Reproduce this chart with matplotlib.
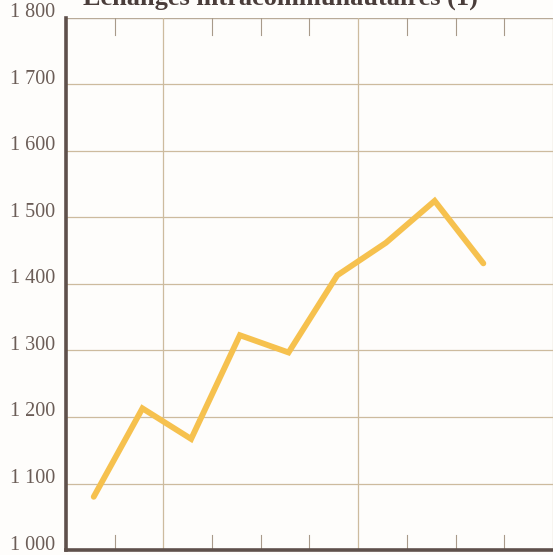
import numpy as np
import matplotlib.pyplot as plt
from matplotlib.transforms import ScaledTranslation

# valeurs (indice de l'annee, 0..8)
years = [0, 1, 2, 3, 4, 5, 6, 7, 8]
values = [1080, 1213, 1167, 1323, 1297, 1413, 1462, 1525, 1431]
yticks = [1000, 1100, 1200, 1300, 1400, 1500, 1600, 1700, 1800]
ylabels = ['1 000', '1 100', '1 200', '1 300', '1 400', '1 500', '1 600', '1 700', '1 800']
title = 'Échanges intracommunautaires (1)'

fig = plt.figure(figsize=(5.53, 5.55), dpi=100)
fig.patch.set_facecolor('#fefdfb')
ax = fig.add_axes([0.1193, 0.009, 0.8807, 0.9586])
ax.set_facecolor('#fefdfb')

grid_c = '#cdbb9e'
axis_c = '#5e504b'
text_c = '#6b5d57'

xmin, xmax = -0.57, 9.43
ax.set_xlim(xmin, xmax)
ax.set_ylim(1000, 1800)

# horizontal grid
for v in yticks[1:-1]:
    ax.axhline(v, color=grid_c, lw=0.9, zorder=1)
ax.axhline(1800, color='#b8aa98', lw=1.0, zorder=1)

# vertical ticks (one per year) and long lines every 4
ticks_x = [xmin + k for k in range(1, 11)]
for k, tx in enumerate(ticks_x, start=1):
    if k % 4 == 2:
        ax.axvline(tx, color=grid_c, lw=0.9, zorder=1)
    else:
        ax.plot([tx, tx], [1800, 1775], color='#a89a8a', lw=0.8, zorder=1)
        ax.plot([tx, tx], [1000, 1022], color='#a89a8a', lw=0.8, zorder=1)

ax.plot(years, values, color='#f6c14e', lw=4.2, solid_joinstyle='miter',
        solid_capstyle='round', zorder=3)

for s in ['top', 'right']:
    ax.spines[s].set_visible(False)
ax.spines['left'].set_color(axis_c)
ax.spines['left'].set_linewidth(2.6)
ax.spines['bottom'].set_color(axis_c)
ax.spines['bottom'].set_linewidth(2.6)

ax.set_xticks([])
ax.set_yticks(yticks)
ax.set_yticklabels(ylabels, fontsize=14.5, family='Liberation Serif', color=text_c)
ax.tick_params(axis='y', length=0, pad=8)
shift = ScaledTranslation(0, 0.05, fig.dpi_scale_trans)
for lab in ax.get_yticklabels():
    lab.set_verticalalignment('center')
    lab.set_transform(lab.get_transform() + shift)

fig.text(0.508, 1 - 5 / 555, title, ha='center', va='baseline', fontsize=19,
         family='Liberation Serif', fontweight='bold', color='#4a3d3a')

fig.savefig('out.png', dpi=100, facecolor=fig.get_facecolor())
